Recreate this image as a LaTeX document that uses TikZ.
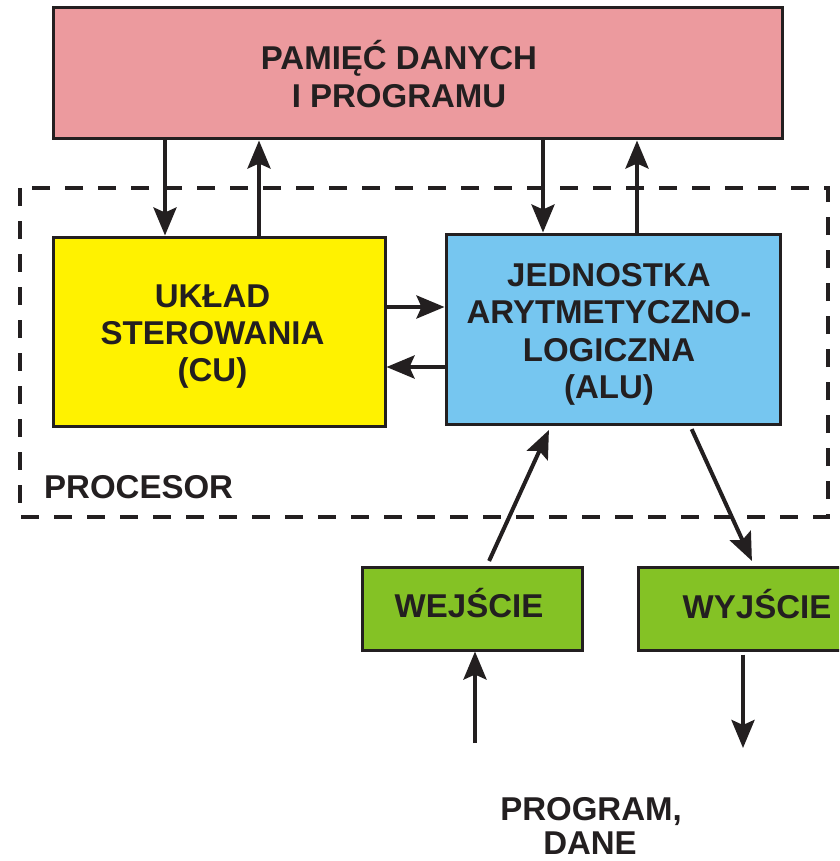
\documentclass[tikz,border=0pt]{standalone}
\usepackage{fontspec}
\setmainfont{Liberation Sans}
\usetikzlibrary{arrows.meta}
\definecolor{ink}{RGB}{35,31,32}
\definecolor{memc}{RGB}{236,154,158}
\definecolor{cuc}{RGB}{255,242,0}
\definecolor{aluc}{RGB}{118,198,240}
\definecolor{ioc}{RGB}{132,194,37}
\tikzset{
  box/.style={draw=ink, line width=3pt, rectangle, inner sep=0pt},
  lbl/.style={anchor=base, inner sep=0pt, text=ink, font=\bfseries\fontsize{33}{37}\selectfont},
  arr/.style={draw=ink, line width=4pt, -{Stealth[length=28pt,width=23pt,inset=5pt]}},
  frame/.style={draw=ink, line width=4pt, dash pattern=on 18pt off 15pt}
}
\begin{document}
\begin{tikzpicture}[x=1pt,y=-1pt]
\clip (0,0) rectangle (839,861);
\fill[white] (0,0) rectangle (839,861);
% processor frame
\draw[frame] (20,188) rectangle (828,517);
% boxes
\node[box, fill=memc, minimum width=729pt, minimum height=131pt] (mem) at (417.5,73.5) {};
\node[box, fill=cuc, minimum width=332pt, minimum height=189pt] (cu) at (219,331.5) {};
\node[box, fill=aluc, minimum width=334pt, minimum height=190pt] (alu) at (613,329) {};
\node[box, fill=ioc, minimum width=220pt, minimum height=83pt] (wej) at (472,608.5) {};
\node[box, fill=ioc, minimum width=238pt, minimum height=83pt] (wyj) at (757,608.5) {};
% texts
\node[lbl] (mem1) at (399,70) {PAMIĘĆ DANYCH};
\node[lbl] (mem2) at (399,108) {I PROGRAMU};
\node[lbl] (cu1) at (212.5,307) {UKŁAD};
\node[lbl] (cu2) at (212.5,344) {STEROWANIA};
\node[lbl] (cu3) at (212.5,381) {(CU)};
\node[lbl] (alu1) at (609,286) {JEDNOSTKA};
\node[lbl] (alu2) at (609,323) {ARYTMETYCZNO-};
\node[lbl] (alu3) at (609,361) {LOGICZNA};
\node[lbl] (alu4) at (609,398) {(ALU)};
\node[lbl] (wejt) at (469,617) {WEJŚCIE};
\node[lbl] (wyjt) at (757,618) {WYJŚCIE};
\node[lbl, anchor=base west] (proc) at (44,498) {PROCESOR};
\node[lbl] (prog1) at (591,820) {PROGRAM,};
\node[lbl] (prog2) at (590,854) {DANE};
% helper coordinates
\coordinate (c1) at (165,0);
\coordinate (c2) at (259,0);
\coordinate (c3) at (543,0);
\coordinate (c4) at (637,0);
\coordinate (r1) at (0,307);
\coordinate (r2) at (0,367);
\coordinate (w1) at (487,0);
\coordinate (w2) at (551,0);
\coordinate (y1) at (690,0);
\coordinate (y2) at (754,0);
\coordinate (inp) at (475,743);
\coordinate (outp) at (743,748);
% connectors
\draw[arr] (mem.south -| c1) -- (cu.north -| c1);
\draw[arr] (cu.north -| c2) -- (mem.south -| c2);
\draw[arr] (mem.south -| c3) -- (alu.north -| c3);
\draw[arr] (alu.north -| c4) -- (mem.south -| c4);
\draw[arr] (cu.east |- r1) -- (alu.west |- r1);
\draw[arr] (alu.west |- r2) -- (cu.east |- r2);
\draw[arr, shorten <=5pt, shorten >=5pt] (wej.north -| w1) -- (alu.south -| w2);
\draw[arr, shorten <=4pt, shorten >=5pt] (alu.south -| y1) -- (wyj.north -| y2);
\draw[arr] (inp) -- (wej.south -| inp);
\draw[arr, shorten <=3pt] (wyj.south -| outp) -- (outp);
\end{tikzpicture}
\end{document}
